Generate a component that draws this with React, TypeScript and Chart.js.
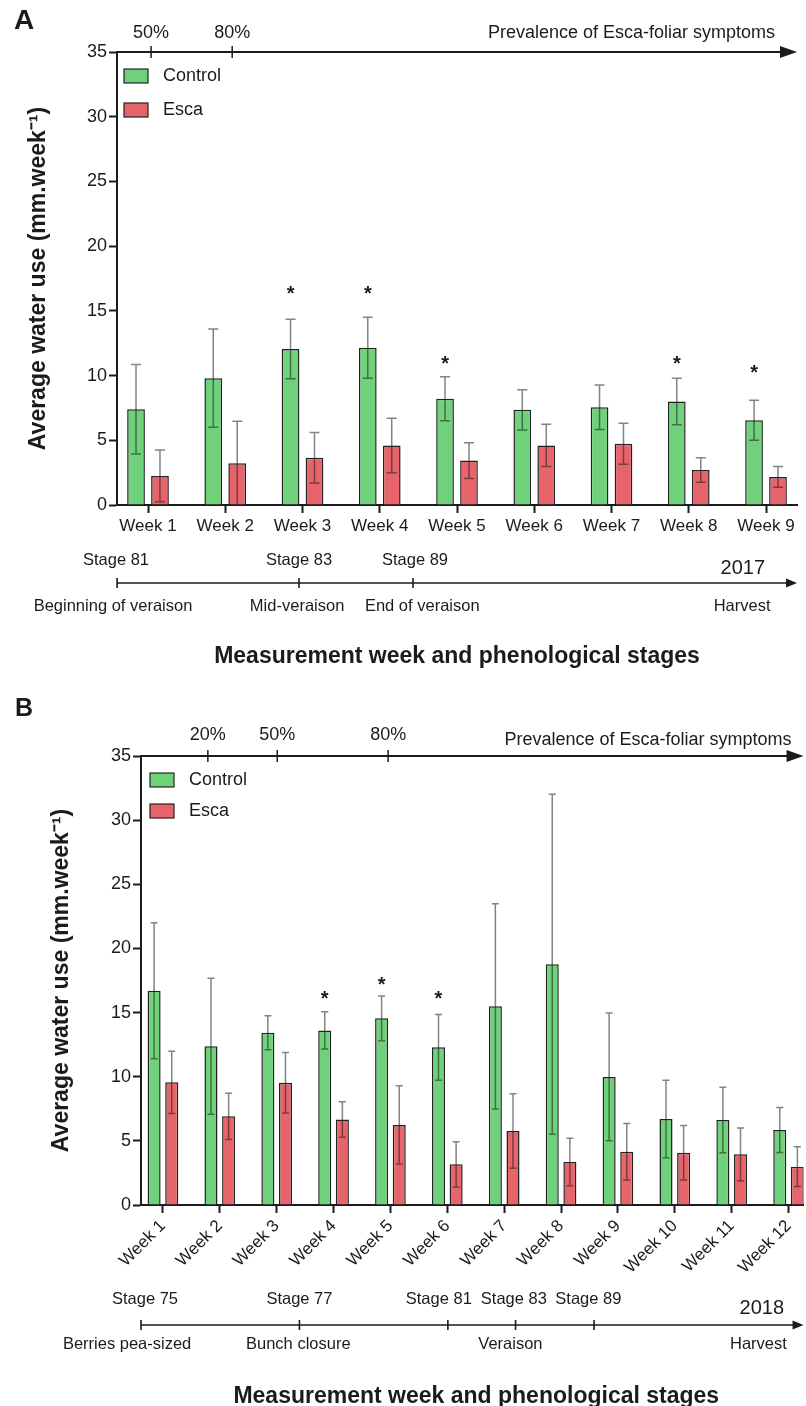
import React, { useEffect, useRef } from "react";
import { Chart, registerables } from "chart.js";

Chart.register(...registerables);

const FONT = '"Liberation Sans", Arial, Helvetica, sans-serif';
const INK = "#1b1b1b";
const GREEN = "#6fd27b";
const RED = "#e8646b";
const BAR_EDGE = "#222222";
const WHISKER = "rgba(30,30,30,0.55)";
const Y_TITLE = "Average water use (mm.week\u207B\u00B9)";
const X_TITLE = "Measurement week and phenological stages";
const PREV_TITLE = "Prevalence of Esca-foliar symptoms";
const SERIES = ["Control", "Esca"];

// ---------- Panel A (2017) ----------
const weeksA = ["Week 1", "Week 2", "Week 3", "Week 4", "Week 5", "Week 6", "Week 7", "Week 8", "Week 9"];
const controlA = [7.4, 9.8, 12.05, 12.15, 8.2, 7.35, 7.55, 8.0, 6.55];
const controlErrA = [3.45, 3.8, 2.3, 2.35, 1.7, 1.55, 1.72, 1.8, 1.55];
const escaA = [2.25, 3.22, 3.65, 4.6, 3.43, 4.6, 4.73, 2.7, 2.17];
const escaErrA = [2.0, 3.25, 1.95, 2.1, 1.38, 1.63, 1.58, 0.95, 0.8];
const starWeeksA = [3, 4, 5, 8, 9];
const starLevelsA = [16.7, 16.7, 11.3, 11.3, 10.6];
const prevLabelsA = ["50%", "80%"];
const prevAtA = [1.04, 2.09];
const stageTicksA = [0.6, 2.955, 4.43];
const stageLabelsA = ["Stage 81", "Stage 83", "Stage 89"];
const stageLabelAtA = [0.586, 2.955, 4.456];
const phaseLabelsA = ["Beginning of veraison", "Mid-veraison", "End of veraison", "Harvest"];
const phaseAtA = [0.547, 2.93, 4.55, 8.69];
const yearA = "2017";
const yearAtA = 8.7;

// ---------- Panel B (2018) ----------
const weeksB = ["Week 1", "Week 2", "Week 3", "Week 4", "Week 5", "Week 6", "Week 7", "Week 8", "Week 9", "Week 10", "Week 11", "Week 12"];
const controlB = [16.7, 12.37, 13.43, 13.61, 14.55, 12.29, 15.49, 18.76, 9.98, 6.7, 6.63, 5.85];
const controlErrB = [5.3, 5.3, 1.32, 1.45, 1.75, 2.56, 8.0, 13.25, 4.98, 3.02, 2.55, 1.75];
const escaB = [9.56, 6.91, 9.53, 6.67, 6.24, 3.17, 5.77, 3.35, 4.15, 4.07, 3.95, 2.99];
const escaErrB = [2.42, 1.8, 2.36, 1.38, 3.05, 1.77, 2.9, 1.85, 2.2, 2.12, 2.05, 1.55];
const starWeeksB = [4, 5, 6];
const starLevelsB = [16.45, 17.54, 16.45];
const prevLabelsB = ["20%", "50%", "80%"];
const prevAtB = [1.79, 3.01, 4.96];
const stageTicksB = [0.6146, 3.4, 6.01, 7.2, 8.58];
const stageLabelsB = ["Stage 75", "Stage 77", "Stage 81", "Stage 83", "Stage 89"];
const stageLabelAtB = [0.685, 3.4, 5.85, 7.17, 8.48];
const phaseLabelsB = ["Berries pea-sized", "Bunch closure", "Veraison", "Harvest"];
const phaseAtB = [0.37, 3.38, 7.11, 11.47];
const yearB = "2018";
const yearAtB = 11.53;

type Panel = {
  letter: string;
  weeks: string[];
  control: number[];
  controlErr: number[];
  esca: number[];
  escaErr: number[];
  starWeeks: number[];
  starLevels: number[];
  prevLabels: string[];
  prevAt: number[];
  stageTicks: number[];
  stageLabels: string[];
  stageLabelAt: number[];
  phaseLabels: string[];
  phaseAt: number[];
  year: string;
  yearAt: number;
  height: number;
  xMin: number;
  xMax: number;
  padTop: number;
  padRight: number;
  yAxisWidth: number;
  xAxisHeight: number;
  yTitlePad: number;
  rotation: number;
  cap: number;
  letterSize: number;
  letterY: number;
  prevLabelY: number;
  prevTextY: number;
  prevTextInset: number;
  legendX: number;
  legendY: number;
  legendGap: number;
  stageY: number;
  lineY: number;
  yearY: number;
  phaseY: number;
  titleY: number;
  titleShift: number;
};

const panelA: Panel = {
  letter: "A",
  weeks: weeksA,
  control: controlA,
  controlErr: controlErrA,
  esca: escaA,
  escaErr: escaErrA,
  starWeeks: starWeeksA,
  starLevels: starLevelsA,
  prevLabels: prevLabelsA,
  prevAt: prevAtA,
  stageTicks: stageTicksA,
  stageLabels: stageLabelsA,
  stageLabelAt: stageLabelAtA,
  phaseLabels: phaseLabelsA,
  phaseAt: phaseAtA,
  year: yearA,
  yearAt: yearAtA,
  height: 690,
  xMin: 0.5987,
  xMax: 9.401,
  padTop: 52,
  padRight: 9,
  yAxisWidth: 117,
  xAxisHeight: 185,
  yTitlePad: 25,
  rotation: 0,
  cap: 5,
  letterSize: 28,
  letterY: 21,
  prevLabelY: 33,
  prevTextY: 33,
  prevTextInset: 22,
  legendX: 124,
  legendY: 69,
  legendGap: 34,
  stageY: 560,
  lineY: 583,
  yearY: 568,
  phaseY: 606,
  titleY: 657,
  titleShift: 0,
};

const panelB: Panel = {
  letter: "B",
  weeks: weeksB,
  control: controlB,
  controlErr: controlErrB,
  esca: escaB,
  escaErr: escaErrB,
  starWeeks: starWeeksB,
  starLevels: starLevelsB,
  prevLabels: prevLabelsB,
  prevAt: prevAtB,
  stageTicks: stageTicksB,
  stageLabels: stageLabelsB,
  stageLabelAt: stageLabelAtB,
  phaseLabels: phaseLabelsB,
  phaseAt: phaseAtB,
  year: yearB,
  yearAt: yearAtB,
  height: 716,
  xMin: 0.6146,
  xMax: 12.263,
  padTop: 66,
  padRight: 0,
  yAxisWidth: 141,
  xAxisHeight: 201,
  yTitlePad: 48,
  rotation: 45,
  cap: 3.5,
  letterSize: 25,
  letterY: 19,
  prevLabelY: 45,
  prevTextY: 50,
  prevTextInset: 12,
  legendX: 150,
  legendY: 83,
  legendGap: 31,
  stageY: 609,
  lineY: 635,
  yearY: 618,
  phaseY: 654,
  titleY: 707,
  titleShift: 4,
};

function arrowHead(ctx: CanvasRenderingContext2D, tipX: number, y: number, len: number, half: number) {
  ctx.beginPath();
  ctx.moveTo(tipX, y);
  ctx.lineTo(tipX - len, y - half);
  ctx.lineTo(tipX - len, y + half);
  ctx.closePath();
  ctx.fill();
}

function makeDecor(p: Panel) {
  return {
    id: "decor" + p.letter,
    afterDatasetsDraw(chart: any) {
      const ctx: CanvasRenderingContext2D = chart.ctx;
      const ys = chart.scales.y;
      ctx.save();
      chart.data.datasets.forEach((ds: any, di: number) => {
        const meta = chart.getDatasetMeta(di);
        meta.data.forEach((bar: any, j: number) => {
          const v = ds.data[j].y;
          const e = ds.errors[j];
          const low = v - e;
          const yt = ys.getPixelForValue(v + e);
          const yb = ys.getPixelForValue(Math.max(low, 0));
          ctx.strokeStyle = WHISKER;
          ctx.lineWidth = 1.5;
          ctx.beginPath();
          ctx.moveTo(bar.x, yt);
          ctx.lineTo(bar.x, yb);
          ctx.moveTo(bar.x - p.cap, yt);
          ctx.lineTo(bar.x + p.cap, yt);
          if (low > 0.05) {
            ctx.moveTo(bar.x - p.cap, yb);
            ctx.lineTo(bar.x + p.cap, yb);
          }
          ctx.stroke();
        });
      });
      const m0 = chart.getDatasetMeta(0);
      ctx.fillStyle = INK;
      ctx.font = `bold 20px ${FONT}`;
      ctx.textAlign = "center";
      ctx.textBaseline = "alphabetic";
      p.starWeeks.forEach((w, k) => {
        const bar = m0.data[w - 1];
        ctx.fillText("*", bar.x, ys.getPixelForValue(p.starLevels[k]) + 11);
      });
      ctx.restore();
    },
    afterDraw(chart: any) {
      const ctx: CanvasRenderingContext2D = chart.ctx;
      const xs = chart.scales.x;
      const area = chart.chartArea;
      ctx.save();
      ctx.fillStyle = INK;
      ctx.strokeStyle = INK;

      ctx.font = `bold ${p.letterSize}px ${FONT}`;
      ctx.textAlign = "center";
      ctx.textBaseline = "middle";
      ctx.fillText(p.letter, 24, p.letterY);

      const yTop = area.top;
      ctx.lineWidth = 2;
      ctx.beginPath();
      ctx.moveTo(area.left, yTop);
      ctx.lineTo(area.right - 10, yTop);
      ctx.stroke();
      arrowHead(ctx, area.right, yTop, 17, 6);
      ctx.lineWidth = 1.5;
      ctx.font = `18px ${FONT}`;
      ctx.textAlign = "center";
      p.prevAt.forEach((at, k) => {
        const x = xs.getPixelForValue(at);
        ctx.beginPath();
        ctx.moveTo(x, yTop - 6);
        ctx.lineTo(x, yTop + 6);
        ctx.stroke();
        ctx.fillText(p.prevLabels[k], x, p.prevLabelY);
      });
      ctx.textAlign = "right";
      ctx.fillText(PREV_TITLE, area.right - p.prevTextInset, p.prevTextY);

      ctx.font = `18px ${FONT}`;
      ctx.textAlign = "left";
      chart.data.datasets.forEach((ds: any, i: number) => {
        const top = p.legendY + i * p.legendGap;
        ctx.fillStyle = ds.backgroundColor;
        ctx.fillRect(p.legendX, top, 24, 14);
        ctx.lineWidth = 1.2;
        ctx.strokeStyle = BAR_EDGE;
        ctx.strokeRect(p.legendX, top, 24, 14);
        ctx.fillStyle = INK;
        ctx.fillText(ds.label, p.legendX + 39, top + 7);
      });

      ctx.strokeStyle = INK;
      ctx.fillStyle = INK;
      ctx.lineWidth = 1.6;
      const x0 = xs.getPixelForValue(p.stageTicks[0]);
      ctx.beginPath();
      ctx.moveTo(x0, p.lineY);
      ctx.lineTo(area.right - 6, p.lineY);
      ctx.stroke();
      arrowHead(ctx, area.right, p.lineY, 11, 4.5);
      p.stageTicks.forEach((at) => {
        const x = xs.getPixelForValue(at);
        ctx.beginPath();
        ctx.moveTo(x, p.lineY - 5);
        ctx.lineTo(x, p.lineY + 5);
        ctx.stroke();
      });
      ctx.font = `16.5px ${FONT}`;
      ctx.textAlign = "center";
      p.stageLabels.forEach((s, k) => ctx.fillText(s, xs.getPixelForValue(p.stageLabelAt[k]), p.stageY));
      p.phaseLabels.forEach((s, k) => ctx.fillText(s, xs.getPixelForValue(p.phaseAt[k]), p.phaseY));
      ctx.font = `20px ${FONT}`;
      ctx.fillText(p.year, xs.getPixelForValue(p.yearAt), p.yearY);

      ctx.font = `bold 23px ${FONT}`;
      ctx.fillText(X_TITLE, (area.left + area.right) / 2 + p.titleShift, p.titleY);
      ctx.restore();
    },
  };
}

function buildConfig(p: Panel): any {
  return {
    type: "bar",
    data: {
      datasets: [
        {
          label: SERIES[0],
          data: p.control.map((v, i) => ({ x: i + 1, y: v })),
          errors: p.controlErr,
          backgroundColor: GREEN,
          borderColor: BAR_EDGE,
          borderWidth: 1.5,
          categoryPercentage: 0.62,
          barPercentage: 0.74,
        },
        {
          label: SERIES[1],
          data: p.esca.map((v, i) => ({ x: i + 1, y: v })),
          errors: p.escaErr,
          backgroundColor: RED,
          borderColor: BAR_EDGE,
          borderWidth: 1.5,
          categoryPercentage: 0.62,
          barPercentage: 0.74,
        },
      ],
    },
    options: {
      responsive: false,
      animation: false,
      devicePixelRatio: 1,
      layout: { padding: { top: p.padTop, right: p.padRight, left: 0, bottom: 0 } },
      plugins: { legend: { display: false }, tooltip: { enabled: false } },
      scales: {
        x: {
          type: "linear",
          min: p.xMin,
          max: p.xMax,
          offset: false,
          bounds: "data",
          afterBuildTicks: (s: any) => {
            s.ticks = p.weeks.map((_, i) => ({ value: i + 1 }));
          },
          afterFit: (s: any) => {
            s.height = p.xAxisHeight;
          },
          ticks: {
            autoSkip: false,
            minRotation: p.rotation,
            maxRotation: p.rotation,
            padding: 3,
            color: INK,
            font: { family: FONT, size: 17 },
            callback: (v: any) => p.weeks[Math.round(Number(v)) - 1] ?? "",
          },
          grid: { offset: false, drawOnChartArea: false, drawTicks: true, tickLength: 8, tickColor: INK, tickWidth: 2 },
          border: { display: true, color: INK, width: 2 },
        },
        y: {
          min: 0,
          max: 35,
          afterFit: (s: any) => {
            s.width = p.yAxisWidth;
          },
          ticks: { stepSize: 5, padding: 2, color: INK, font: { family: FONT, size: 18 } },
          grid: { drawOnChartArea: false, drawTicks: true, tickLength: 8, tickColor: INK, tickWidth: 2 },
          border: { display: true, color: INK, width: 2 },
          title: {
            display: true,
            text: Y_TITLE,
            color: INK,
            font: { family: FONT, size: 23, weight: "bold" },
            padding: { top: p.yTitlePad, bottom: 0 },
          },
        },
      },
    },
    plugins: [makeDecor(p)],
  };
}

function PanelChart({ panel }: { panel: Panel }) {
  const ref = useRef<HTMLCanvasElement | null>(null);
  useEffect(() => {
    if (!ref.current) return;
    const chart = new Chart(ref.current, buildConfig(panel));
    return () => chart.destroy();
  }, [panel]);
  return (
    <canvas
      ref={ref}
      width={806}
      height={panel.height}
      style={{ display: "block", width: 806, height: panel.height }}
    />
  );
}

export default function App() {
  return (
    <div
      style={{
        position: "absolute",
        left: 0,
        top: 0,
        width: 806,
        height: 1406,
        background: "#ffffff",
        overflow: "hidden",
      }}
    >
      <PanelChart panel={panelA} />
      <PanelChart panel={panelB} />
    </div>
  );
}
